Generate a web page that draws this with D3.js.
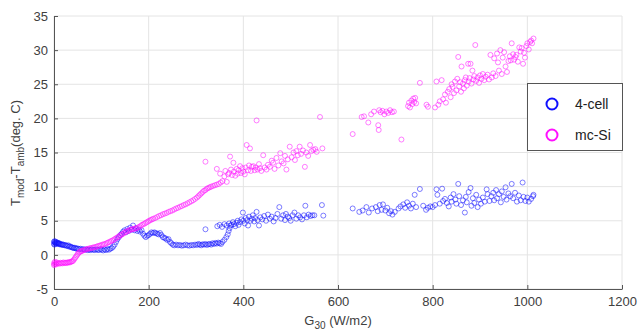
<!DOCTYPE html>
<html><head><meta charset="utf-8">
<script src="https://cdn.jsdelivr.net/npm/d3@7"></script>
<style>body{margin:0;background:#fff}svg{display:block}text{font-family:Arial,"Liberation Sans",sans-serif;}</style>
</head><body>
<svg id="c" width="638" height="336"></svg>
<script>
const xTicks=[0,200,400,600,800,1000,1200];
const yTicks=[-5,0,5,10,15,20,25,30,35];
const seriesNames=["4-cell","mc-Si"];
const seriesColors=["#1010ff","#ff10ff"];
const cell4=[[0,1.9],[0,1.6],[1,2.0],[1,1.5],[2,1.8],[3,1.7],[3,1.95],[4,1.6],[5,1.85],[6,1.7],[7,1.8],[8,1.65],[9,1.75],[10,1.6],[11,1.7],[12,1.55],[14,1.6],[15,1.5],[17,1.55],[18,1.45],[20,1.5],[22,1.4],[24,1.45],[26,1.35],[28,1.3],[30,1.4],[32,1.2],[34,1.25],[36,1.15],[38,1.1],[40,1.05],[42,1.0],[44,1.05],[46,0.95],[48,0.9],[50,0.95],[53,0.85],[56,0.9],[59,0.8],[62,0.85],[65,0.75],[68,0.8],[71,0.7],[74,0.75],[77,0.7],[80,0.8],[83,0.75],[86,0.7],[89,0.8],[92,0.75],[95,0.7],[98,0.85],[101,0.75],[104,0.65],[107,0.8],[110,0.7],[113,0.85],[116,0.75],[119,0.9],[122,1.0],[125,1.2],[128,1.5],[131,1.9],[134,2.3],[137,2.6],[140,2.9],[143,3.1],[146,3.4],[149,3.6],[152,3.3],[155,3.8],[158,3.5],[161,4.0],[164,3.7],[167,4.3],[170,3.6],[173,3.9],[176,3.5],[179,3.7],[182,3.4],[185,3.6],[188,3.1],[191,2.8],[194,2.6],[197,2.8],[200,2.9],[203,3.1],[206,3.3],[209,3.2],[212,3.3],[215,3.2],[218,3.1],[221,3.0],[224,3.2],[227,2.9],[230,2.6],[233,2.5],[236,2.4],[239,2.2],[242,2.3],[245,1.9],[248,1.7],[251,1.5],[254,1.4],[258,1.5],[262,1.4],[266,1.45],[270,1.35],[274,1.4],[278,1.5],[282,1.4],[286,1.35],[290,1.45],[294,1.4],[298,1.5],[302,1.45],[305,1.6],[308,1.5],[311,1.4],[314,1.55],[317,1.5],[320,3.75],[320,1.6],[323,1.45],[326,1.55],[329,1.6],[332,1.5],[335,1.7],[338,1.6],[341,1.75],[344,1.65],[347,1.8],[350,1.7],[353,1.6],[356,1.9],[360,2.2],[364,2.6],[367,3.0],[369,3.5],[371,3.9],[373,4.3],[345,4.2],[350,4.4],[355,4.1],[360,4.5],[365,4.3],[370,4.6],[375,4.4],[378,4.8],[380,4.5],[383,4.2],[386,4.7],[388,5.0],[390,4.4],[393,4.8],[396,5.2],[399,6.2],[400,5.0],[403,4.6],[405,5.4],[408,5.1],[410,4.3],[412,5.6],[415,5.0],[418,5.3],[420,5.8],[423,4.9],[425,5.4],[428,6.3],[430,5.1],[433,4.3],[436,5.5],[440,5.2],[444,5.7],[448,5.0],[452,5.9],[456,5.3],[460,5.6],[464,4.9],[468,5.4],[472,6.0],[476,7.0],[480,5.3],[484,5.8],[488,5.1],[490,6.0],[494,5.6],[497,5.4],[500,5.0],[504,5.8],[508,6.2],[512,5.3],[516,5.8],[520,5.5],[524,5.2],[528,5.8],[531,7.2],[534,5.5],[538,5.9],[542,5.7],[546,5.8],[550,5.8],[566,7.3],[569,5.75],
[631,6.8],[645,6.3],[652,6.5],[660,7.0],[665,6.2],[672,6.8],[680,7.0],[684,6.4],[688,7.3],[692,6.6],[695,7.4],[700,6.5],[704,6.9],[708,6.1],[712,6.4],[715,5.9],[720,6.3],[728,6.8],[732,7.1],[738,7.4],[742,6.9],[746,7.7],[750,7.2],[754,6.8],[758,7.5],[762,8.8],[765,7.0],[773,9.65],[780,7.2],[786,6.6],[790,6.9],[795,7.1],[800,7.0],[805,7.3],[808,9.6],[810,8.8],[815,7.5],[820,9.7],[822,7.9],[826,8.2],[830,7.6],[834,7.1],[838,8.4],[840,7.8],[844,8.9],[848,8.1],[850,7.5],[854,10.4],[856,8.6],[860,7.3],[864,8.0],[868,6.2],[870,8.5],[872,7.7],[876,9.2],[880,9.8],[882,7.2],[885,8.3],[888,7.6],[892,8.8],[895,7.0],[898,8.1],[902,7.5],[906,8.4],[910,7.8],[914,9.6],[916,8.9],[920,7.9],[924,8.6],[928,9.1],[930,8.0],[934,9.5],[936,8.3],[940,8.9],[944,7.7],[946,9.3],[950,8.5],[954,9.9],[956,8.1],[960,9.0],[964,8.6],[967,10.4],[970,8.3],[974,9.1],[978,7.8],[982,8.7],[986,8.0],[990,10.6],[992,8.5],[996,7.9],[1000,8.4],[1003,7.8],[1008,8.2],[1013,8.8],[1012,8.6]];
const mcSi=[[0,-1.5],[0,-1.2],[1,-1.4],[2,-1.0],[3,-1.3],[4,-1.2],[5,-1.4],[6,-1.1],[8,-1.25],[10,-1.2],[12,-1.3],[14,-1.15],[16,-1.2],[18,-1.25],[20,-1.1],[22,-1.2],[24,-1.15],[26,-1.2],[28,-1.1],[30,-1.15],[32,-1.05],[34,-1.1],[36,-1.0],[38,-0.95],[40,-0.9],[42,-0.7],[44,-0.5],[46,-0.3],[48,-0.1],[50,0.1],[52,0.3],[54,0.4],[56,0.5],[58,0.55],[60,0.6],[63,0.7],[66,0.75],[69,0.85],[72,0.9],[75,0.95],[78,1.0],[81,1.05],[84,1.1],[87,1.15],[90,1.2],[93,1.3],[96,1.35],[99,1.4],[102,1.5],[105,1.55],[108,1.6],[111,1.7],[114,1.8],[117,1.9],[120,2.0],[123,2.1],[126,2.2],[129,2.35],[132,2.5],[135,2.6],[138,2.75],[141,2.9],[144,3.0],[147,3.15],[150,3.3],[153,3.4],[156,3.5],[159,3.6],[162,3.7],[165,3.75],[168,3.8],[171,3.85],[174,3.9],[177,4.0],[180,4.1],[183,4.25],[186,4.4],[189,4.5],[192,4.6],[195,4.75],[198,4.85],[201,5.0],[204,5.1],[207,5.2],[210,5.3],[214,5.4],[218,5.55],[222,5.7],[226,5.8],[230,5.95],[234,6.05],[238,6.15],[242,6.3],[246,6.4],[250,6.5],[254,6.65],[258,6.8],[262,6.9],[266,7.05],[270,7.15],[274,7.3],[278,7.4],[282,7.55],[286,7.7],[290,7.85],[294,8.0],[298,8.2],[302,8.4],[305,8.6],[308,8.8],[311,9.0],[314,9.2],[317,9.4],[320,13.65],[320,9.5],[323,9.7],[326,9.8],[329,9.9],[332,10.0],[336,10.1],[340,10.2],[344,10.3],[344,12.6],[348,10.4],[351,11.9],[352,10.6],[356,10.8],[360,11.5],[362,12.3],[365,10.7],[368,11.8],[370,12.0],[372,14.4],[374,12.5],[376,11.7],[379,13.5],[380,12.2],[383,11.6],[386,12.6],[388,11.9],[390,12.4],[393,13.0],[395,12.0],[398,12.7],[400,12.2],[403,11.8],[405,12.8],[407,16.1],[410,12.4],[412,13.1],[414,15.6],[416,12.3],[418,12.9],[421,13.0],[424,12.4],[426,12.8],[428,19.7],[430,12.5],[433,13.3],[435,12.7],[438,12.3],[442,14.6],[445,12.8],[449,12.5],[452,13.2],[456,12.9],[460,13.8],[463,13.5],[466,12.6],[470,14.2],[474,13.1],[478,14.9],[481,13.7],[485,13.4],[488,14.5],[491,12.5],[494,14.0],[498,15.85],[502,14.3],[506,15.0],[509,13.9],[512,15.2],[515,14.6],[519,15.85],[522,14.8],[526,15.3],[530,12.9],[533,15.0],[537,14.5],[541,16.1],[544,15.2],[548,15.4],[552,15.5],[555,15.1],[562,20.2],[567,15.6],
[631,17.7],[650,20.2],[655,20.3],[664,19.4],[670,20.6],[676,21.0],[685,19.0],[686,18.3],[687,21.2],[690,20.9],[694,21.1],[698,20.6],[702,21.0],[706,20.8],[710,21.2],[714,20.9],[718,21.0],[734,16.9],[748,21.8],[750,22.3],[752,21.6],[755,22.6],[757,22.1],[759,22.9],[761,22.4],[763,23.0],[765,22.2],[773,25.2],[787,22.0],[790,21.7],[805,21.6],[808,25.4],[812,22.0],[815,22.5],[819,25.6],[822,22.8],[826,23.5],[828,22.3],[832,23.9],[835,24.3],[838,23.1],[840,25.0],[842,24.6],[845,23.7],[847,25.4],[850,24.1],[852,25.8],[854,29.0],[856,24.7],[858,25.3],[860,23.9],[861,27.6],[864,25.1],[866,24.4],[868,25.6],[870,26.0],[872,24.8],[875,28.0],[876,25.4],[878,25.9],[880,28.0],[882,25.1],[884,27.0],[886,25.7],[888,26.2],[890,30.75],[892,25.5],[895,26.0],[898,25.2],[900,26.3],[903,25.8],[906,26.5],[909,25.6],[912,26.1],[916,26.4],[919,25.7],[922,29.3],[925,26.0],[928,26.6],[930,28.8],[933,26.2],[936,29.5],[938,28.2],[940,27.0],[943,30.0],[946,26.5],[948,28.9],[951,29.7],[954,27.6],[957,26.8],[960,28.4],[963,29.1],[965,28.5],[967,31.0],[970,29.4],[972,28.6],[975,29.0],[977,29.3],[980,28.3],[983,30.4],[986,29.8],[988,30.3],[991,28.0],[993,29.6],[995,28.9],[998,30.6],[1000,31.0],[1003,30.1],[1006,31.2],[1008,31.4],[1010,31.0],[1013,31.7]];

const svg=d3.select("#c");
const m={l:54,r:16,t:16,b:47};
const W=638,H=336;
const x=d3.scaleLinear().domain([0,1200]).range([m.l,W-m.r]);
const y=d3.scaleLinear().domain([-5,35]).range([H-m.b,m.t]);
const grid="#e4e4e4", txt="#404040";

// grid
svg.append("g").selectAll("line").data(xTicks).join("line")
 .attr("x1",d=>x(d)).attr("x2",d=>x(d)).attr("y1",y(-5)).attr("y2",y(35)).attr("stroke",grid);
svg.append("g").selectAll("line").data(yTicks).join("line")
 .attr("x1",x(0)).attr("x2",x(1200)).attr("y1",d=>y(d)).attr("y2",d=>y(d)).attr("stroke",grid);

// axes
const fmt=d=>String(d);
const xa=svg.append("g").attr("transform",`translate(0,${y(-5)})`)
 .call(d3.axisBottom(x).tickValues(xTicks).tickFormat(fmt).tickSize(-4).tickPadding(8).tickSizeOuter(0));
const ya=svg.append("g").attr("transform",`translate(${x(0)},0)`)
 .call(d3.axisLeft(y).tickValues(yTicks).tickFormat(fmt).tickSize(-4).tickPadding(6).tickSizeOuter(0));
[xa,ya].forEach(a=>{a.select(".domain").attr("stroke","#555");a.selectAll(".tick line").attr("stroke","#555");
 a.selectAll("text").attr("fill",txt).style("font-size","13px").style("font-family","Arial,'Liberation Sans',sans-serif");});

// points
const data=[cell4,mcSi];
data.forEach((s,i)=>{
 svg.append("g").selectAll("circle").data(s).join("circle")
  .attr("cx",d=>x(d[0])).attr("cy",d=>y(d[1])).attr("r",2.5)
  .attr("fill","none").attr("stroke",seriesColors[i]).attr("stroke-width",0.9).attr("stroke-opacity",0.6);
});

// legend
const lg=svg.append("g");
lg.append("rect").attr("x",527.5).attr("y",83.5).attr("width",95).attr("height",67)
 .attr("fill","#fff").attr("stroke","#555").attr("stroke-width",1);
seriesNames.forEach((n,i)=>{
 lg.append("circle").attr("cx",552).attr("cy",104+i*31).attr("r",5.5).attr("fill","none")
  .attr("stroke",seriesColors[i]).attr("stroke-width",2);
 lg.append("text").attr("x",575).attr("y",109+i*31).attr("fill","#222").style("font-size","14px").text(n);
});

// axis labels
const xl=svg.append("text").attr("x",338).attr("y",325).attr("text-anchor","middle").attr("fill",txt).style("font-size","13px");
xl.append("tspan").text("G");
xl.append("tspan").attr("dy",4).style("font-size","10px").text("30");
xl.append("tspan").attr("dy",-4).text(" (W/m2)");

const yl=svg.append("text").attr("transform",`translate(20,${153}) rotate(-90)`).attr("text-anchor","middle").attr("fill",txt).style("font-size","13px");
yl.append("tspan").text("T");
yl.append("tspan").attr("dy",4).style("font-size","10px").text("mod");
yl.append("tspan").attr("dy",-4).text("-T");
yl.append("tspan").attr("dy",4).style("font-size","10px").text("amb");
yl.append("tspan").attr("dy",-4).text("(deg. C)");
</script>
</body></html>
